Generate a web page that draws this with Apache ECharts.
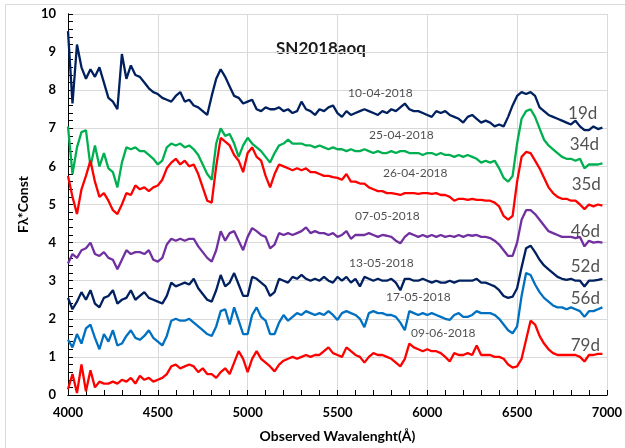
<!DOCTYPE html>
<html>
<head>
<meta charset="utf-8">
<script src="https://cdn.jsdelivr.net/npm/echarts@6/dist/echarts.min.js"></script>
<style>
  html, body { margin: 0; padding: 0; background: #fff; }
  #chart { width: 625px; height: 448px; }
</style>
</head>
<body>
<div id="chart"></div>
<script>
// sampling grid of the spectra (Angstrom)
var wavelength = [
  4000,4025,4050,4075,4100,4125,4150,4175,4200,4225,
  4250,4275,4300,4325,4350,4375,4400,4425,4450,4475,
  4500,4525,4550,4575,4600,4625,4650,4675,4700,4725,
  4750,4775,4800,4825,4850,4875,4900,4925,4950,4975,
  5000,5025,5050,5075,5100,5125,5150,5175,5200,5225,
  5250,5275,5300,5325,5350,5375,5400,5425,5450,5475,
  5500,5525,5550,5575,5600,5625,5650,5675,5700,5725,
  5750,5775,5800,5825,5850,5875,5900,5925,5950,5975,
  6000,6025,6050,6075,6100,6125,6150,6175,6200,6225,
  6250,6275,6300,6325,6350,6375,6400,6425,6450,6475,
  6500,6525,6550,6575,6600,6625,6650,6675,6700,6725,
  6750,6775,6800,6825,6850,6875,6900,6925,6950,6975
];

var spec19d = [
  9.55,7.65,9.2,8.6,8.3,8.55,8.35,8.6,8.2,7.8,
  7.7,7.5,8.95,8.3,8.65,8.4,8.35,8.2,8.05,7.95,
  7.9,7.8,7.75,7.7,7.85,7.95,7.7,7.75,7.6,7.55,
  7.45,7.35,7.85,8.3,8.55,8.35,8.1,7.85,7.8,7.65,
  7.7,7.75,7.5,7.45,7.55,7.5,7.5,7.55,7.45,7.5,
  7.4,7.45,7.7,7.5,7.45,7.35,7.5,7.45,7.55,7.6,
  7.4,7.3,7.45,7.35,7.4,7.45,7.5,7.45,7.4,7.35,
  7.45,7.4,7.5,7.45,7.55,7.65,7.5,7.45,7.45,7.4,
  7.35,7.3,7.45,7.4,7.45,7.35,7.3,7.25,7.15,7.3,
  7.35,7.25,7.15,7.2,7.15,7.05,7.1,7.05,7.3,7.6,
  7.85,7.95,7.9,7.95,7.85,7.55,7.45,7.35,7.3,7.25,
  7.2,7.15,7.1,7.2,7.05,6.95,6.95,7.05,6.98,7.02
];
var spec34d = [
  7.05,5.8,6.5,6.9,6.95,6.0,6.55,6.0,6.35,5.95,
  5.85,5.45,6.1,6.5,6.45,6.5,6.4,6.4,6.3,6.2,
  6.05,6.15,6.5,6.6,6.55,6.6,6.5,6.55,6.45,6.3,
  6.05,5.8,5.65,6.6,7.0,6.8,6.85,6.6,6.25,6.55,
  6.75,6.6,6.5,6.4,6.25,6.1,6.35,6.55,6.6,6.7,
  6.6,6.6,6.6,6.55,6.55,6.5,6.55,6.5,6.45,6.5,
  6.45,6.45,6.4,6.45,6.4,6.4,6.45,6.4,6.35,6.4,
  6.35,6.35,6.4,6.35,6.4,6.4,6.35,6.35,6.35,6.3,
  6.35,6.35,6.3,6.35,6.3,6.3,6.25,6.3,6.25,6.3,
  6.25,6.2,6.1,6.15,6.1,6.15,5.95,5.7,5.6,5.75,
  6.6,7.25,7.45,7.5,7.3,7.0,6.7,6.55,6.45,6.35,
  6.25,6.2,6.2,6.15,6.2,5.95,6.05,6.05,6.05,6.08
];
var spec35d = [
  5.75,5.2,4.75,5.4,5.75,6.15,5.6,5.2,5.3,5.1,
  4.85,4.75,5.0,5.3,5.25,5.5,5.4,5.45,5.35,5.45,
  5.5,5.65,5.95,6.1,6.2,6.05,6.15,6.0,6.05,5.8,
  5.45,5.1,5.05,6.0,6.75,6.65,6.55,6.3,6.15,5.85,
  6.35,6.5,6.25,6.15,5.75,5.45,5.8,6.05,6.0,5.95,
  5.9,5.95,5.9,5.95,5.85,5.85,5.8,5.75,5.75,5.72,
  5.7,5.65,5.8,5.6,5.6,5.55,5.55,5.45,5.4,5.35,
  5.35,5.3,5.3,5.28,5.25,5.3,5.3,5.3,5.28,5.3,
  5.3,5.28,5.3,5.25,5.25,5.2,5.1,5.15,5.15,5.12,
  5.15,5.12,5.12,5.1,5.1,5.05,4.95,4.7,4.6,4.7,
  5.6,6.25,6.38,6.35,6.15,5.95,5.7,5.45,5.3,5.2,
  5.15,5.15,5.1,5.1,5.0,4.88,5.0,4.95,5.0,4.97
];
var spec46d = [
  3.45,3.7,3.6,3.8,3.85,4.0,3.7,3.65,3.75,3.6,
  3.55,3.3,3.55,3.8,3.7,3.75,3.75,3.7,3.8,3.55,
  3.5,3.6,3.95,4.1,4.05,4.1,4.05,4.1,4.1,3.9,
  3.75,3.6,3.5,3.8,4.3,4.05,4.25,4.3,4.05,3.8,
  4.15,4.38,4.3,4.2,4.15,3.85,3.95,4.25,4.2,4.25,
  4.2,4.25,4.3,4.4,4.25,4.3,4.25,4.25,4.2,4.25,
  4.15,4.2,4.3,4.1,4.2,4.2,4.2,4.25,4.2,4.15,
  4.2,4.18,4.15,4.05,3.98,4.15,4.25,4.2,4.15,4.2,
  4.15,4.2,4.15,4.2,4.15,4.18,4.15,4.2,4.15,4.2,
  4.18,4.2,4.15,4.15,4.12,4.05,3.95,3.8,3.65,3.65,
  4.0,4.6,4.85,4.85,4.75,4.6,4.45,4.3,4.25,4.2,
  4.15,4.15,4.15,4.12,4.15,3.9,4.05,4.0,4.02,4.0
];
var spec52d = [
  2.55,2.25,2.45,2.7,2.5,2.75,2.4,2.3,2.55,2.6,
  2.75,2.4,2.5,2.55,2.75,2.5,2.6,2.7,2.55,2.5,
  2.45,2.4,2.6,2.95,2.85,2.9,2.95,2.9,3.05,2.8,
  2.65,2.5,2.45,2.75,3.15,2.85,2.95,3.2,2.9,2.6,
  2.6,3.1,3.05,2.95,2.85,2.6,2.7,3.05,3.0,2.95,
  3.1,3.05,3.15,3.05,3.0,3.05,3.0,3.1,3.0,2.95,
  3.1,3.0,3.1,2.95,3.05,2.85,3.1,3.05,3.0,3.05,
  3.0,3.0,3.05,2.95,2.75,3.05,3.05,3.0,3.0,3.05,
  3.0,2.95,3.0,2.95,2.95,3.0,2.95,3.0,3.0,3.0,
  3.0,3.05,2.95,2.95,2.9,2.85,2.75,2.6,2.55,2.58,
  2.8,3.35,3.85,3.92,3.75,3.55,3.4,3.3,3.2,3.1,
  3.05,3.02,3.05,3.0,3.0,2.85,3.0,3.0,3.02,3.05
];
var spec56d = [
  1.45,1.25,1.6,1.35,1.75,1.85,1.5,1.2,1.6,1.4,
  1.7,1.3,1.35,1.55,1.7,1.5,1.45,1.55,1.7,1.5,
  1.4,1.3,1.55,1.95,2.0,1.95,1.95,2.0,1.9,1.8,
  1.7,1.6,1.55,1.8,2.2,2.25,1.85,2.3,1.95,1.6,
  1.6,2.1,2.3,2.05,1.95,1.6,1.6,1.9,2.1,1.95,
  2.05,2.15,2.1,2.2,2.15,2.1,2.15,2.1,2.2,2.1,
  1.97,2.15,2.2,2.15,2.1,2.0,1.78,2.15,2.2,2.15,
  2.15,2.1,2.1,2.05,1.9,1.7,2.2,2.15,2.1,2.15,
  2.1,2.15,2.1,2.05,2.0,1.97,2.1,2.15,2.05,2.05,
  2.1,2.2,2.15,2.15,2.15,2.1,2.0,1.85,1.7,1.62,
  1.8,2.6,3.2,3.15,2.9,2.7,2.55,2.45,2.35,2.3,
  2.3,2.25,2.3,2.25,2.2,2.05,2.2,2.2,2.25,2.3
];
var spec79d = [
  0.15,0.55,0.05,0.8,0.1,0.65,0.2,0.35,0.3,0.3,
  0.35,0.3,0.4,0.35,0.45,0.3,0.5,0.4,0.45,0.35,
  0.4,0.45,0.55,0.75,0.8,0.7,0.75,0.8,0.75,0.6,
  0.7,0.55,0.55,0.45,0.6,0.7,0.55,0.85,1.15,0.95,
  0.6,0.95,1.15,0.95,0.85,0.75,0.62,0.8,0.9,0.95,
  1.0,0.95,1.0,1.05,1.0,1.05,1.05,1.15,1.25,1.1,
  1.05,1.0,1.25,1.15,1.05,1.0,0.85,1.0,1.1,1.05,
  1.05,1.0,0.95,0.85,0.75,0.95,1.35,1.25,1.2,1.15,
  1.2,1.15,1.15,1.1,1.0,0.88,1.1,1.05,1.05,1.1,
  1.05,1.3,1.05,1.05,1.05,1.0,1.0,0.95,0.8,0.72,
  0.75,0.95,1.45,1.95,1.85,1.55,1.35,1.2,1.1,1.05,
  1.05,1.05,1.05,1.05,1.0,0.88,1.05,1.05,1.08,1.08
];

var dayNames = ['19d', '34d', '35d', '46d', '52d', '56d', '79d'];
var dateNames = ['10-04-2018', '25-04-2018', '26-04-2018', '07-05-2018', '13-05-2018', '17-05-2018', '09-06-2018'];
var lineColors = ['#002060', '#00b050', '#ff0000', '#7030a0', '#002060', '#0070c0', '#ff0000'];
var spectra = [spec19d, spec34d, spec35d, spec46d, spec52d, spec56d, spec79d];

// where the annotations sit, in data coords [wavelength, flux]
var datePos = [[5739, 7.93], [5856, 6.82], [5933, 5.83], [5778, 4.70], [5744, 3.46], [5950, 2.58], [6089, 1.63]];
var dayPos = [[6865, 7.40], [6875, 6.58], [6885, 5.53], [6880, 4.28], [6880, 3.38], [6880, 2.54], [6880, 1.31]];

var font = 'Lato, "Open Sans", sans-serif';

var myChart = echarts.init(document.getElementById('chart'));

function pair(vals) {
  var res = [];
  for (var i = 0; i < vals.length; i++) {
    res.push([wavelength[i], vals[i]]);
  }
  return res;
}

var series = [];
for (var k = 0; k < spectra.length; k++) {
  series.push({
    name: dayNames[k],
    type: 'line',
    data: pair(spectra[k]),
    showSymbol: false,
    symbol: 'none',
    lineStyle: { color: lineColors[k], width: 2.3 },
    itemStyle: { color: lineColors[k] }
  });
}

series.push({
  name: 'dates',
  type: 'scatter',
  symbolSize: 0,
  silent: true,
  z: 5,
  data: dateNames.map(function (n, i) { return { name: n, value: datePos[i] }; }),
  label: {
    show: true, position: 'inside', formatter: '{b}',
    color: '#1f1f1f', fontFamily: font, fontSize: 12
  }
});
series.push({
  name: 'days',
  type: 'scatter',
  symbolSize: 0,
  silent: true,
  z: 5,
  data: dayNames.map(function (n, i) { return { name: n, value: dayPos[i] }; }),
  label: {
    show: true, position: 'inside', formatter: '{b}',
    color: '#262626', fontFamily: font, fontSize: 17
  }
});

myChart.setOption({
  animation: false,
  backgroundColor: '#fff',
  grid: { left: 68, right: 18, top: 14, bottom: 53 },
  graphic: [
    {
      type: 'polyline',
      shape: { points: [[5.5, 448], [5.5, 4.5], [625, 4.5]] },
      style: { fill: null, stroke: '#d9d9d9', lineWidth: 1 },
      silent: true
    },
    {
      type: 'text',
      left: 276, top: 40,
      style: { text: 'SN2018aoq', font: 'bold 17px ' + font, fill: '#1a1a1a' },
      silent: true
    }
  ],
  xAxis: [
    {
      type: 'value',
      min: 4000, max: 7000, interval: 500,
      name: 'Observed Wavalenght(Å)',
      nameLocation: 'middle',
      nameGap: 34,
      nameTextStyle: { fontFamily: font, fontWeight: 'bold', fontSize: 14, color: '#000' },
      axisLine: { lineStyle: { color: '#000', width: 1 } },
      axisTick: { show: false },
      splitLine: { show: true, lineStyle: { color: '#d9d9d9', width: 1 } },
      axisLabel: {
        fontFamily: font, fontWeight: 'bold', fontSize: 13, color: '#000', margin: 11,
        formatter: function (v) { return String(v); }
      }
    },
    {
      // 100 A ticks, inside
      type: 'value', min: 4000, max: 7000, interval: 100, position: 'bottom',
      axisLine: { show: true, onZero: false, lineStyle: { color: '#000' } },
      axisTick: { show: true, inside: true, length: 5, lineStyle: { color: '#000', width: 1 } },
      axisLabel: { show: false },
      splitLine: { show: false }
    }
  ],
  yAxis: [
    {
      type: 'value',
      min: 0, max: 10, interval: 1,
      name: 'Fλ*Const',
      nameLocation: 'middle',
      nameGap: 30,
      nameTextStyle: { fontFamily: font, fontWeight: 'bold', fontSize: 14, color: '#000' },
      axisLine: { show: true, lineStyle: { color: '#000', width: 1 } },
      axisTick: { show: false },
      splitLine: { show: true, lineStyle: { color: '#d9d9d9', width: 1 } },
      axisLabel: { fontFamily: font, fontWeight: 'bold', fontSize: 13, color: '#000', margin: 12 }
    },
    {
      // 0.2 ticks, inside
      type: 'value', min: 0, max: 10, interval: 0.2, position: 'left',
      axisLine: { show: true, onZero: false, lineStyle: { color: '#000' } },
      axisTick: { show: true, inside: true, length: 5, lineStyle: { color: '#000', width: 1 } },
      axisLabel: { show: false },
      splitLine: { show: false }
    }
  ],
  series: series
});

window.addEventListener('resize', function () {
  myChart.resize();
});
</script>
</body>
</html>
